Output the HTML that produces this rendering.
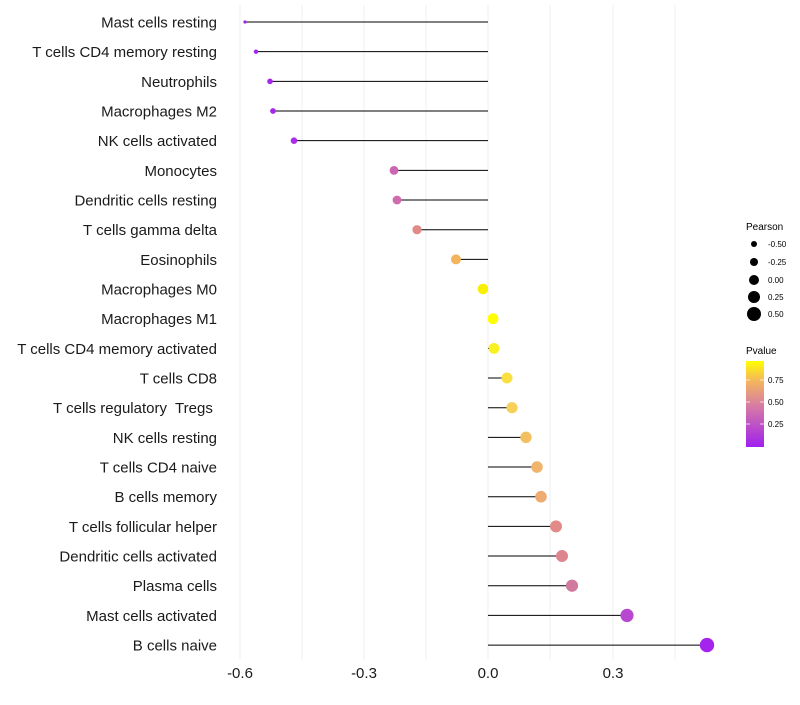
<!DOCTYPE html><html><head><style>body{margin:0;background:#fff}</style></head><body>
<svg width="800" height="700" xmlns="http://www.w3.org/2000/svg" font-family="Liberation Sans, sans-serif">
<defs><linearGradient id="g" x1="0" y1="1" x2="0" y2="0"><stop offset="0" stop-color="#a020f0"/><stop offset="0.5" stop-color="#d9809f"/><stop offset="0.78" stop-color="#f5b85a"/><stop offset="1" stop-color="#ffff00"/></linearGradient></defs>
<g stroke="#efefef" stroke-width="1">
<line x1="240" y1="5" x2="240" y2="660"/><line x1="302" y1="5" x2="302" y2="660"/><line x1="364" y1="5" x2="364" y2="660"/><line x1="426" y1="5" x2="426" y2="660"/><line x1="488" y1="5" x2="488" y2="660"/><line x1="550" y1="5" x2="550" y2="660"/><line x1="613" y1="5" x2="613" y2="660"/><line x1="675" y1="5" x2="675" y2="660"/>
</g>
<g font-size="15" fill="#1a1a1a" text-anchor="end">
<text x="217" y="27.5">Mast cells resting</text>
<text x="217" y="57.2">T cells CD4 memory resting</text>
<text x="217" y="86.8">Neutrophils</text>
<text x="217" y="116.5">Macrophages M2</text>
<text x="217" y="146.2">NK cells activated</text>
<text x="217" y="175.9">Monocytes</text>
<text x="217" y="205.5">Dendritic cells resting</text>
<text x="217" y="235.2">T cells gamma delta</text>
<text x="217" y="264.9">Eosinophils</text>
<text x="217" y="294.5">Macrophages M0</text>
<text x="217" y="324.2">Macrophages M1</text>
<text x="217" y="353.9">T cells CD4 memory activated</text>
<text x="217" y="383.5">T cells CD8</text>
<text x="217" y="413.2" xml:space="preserve">T cells regulatory  Tregs </text>
<text x="217" y="442.9">NK cells resting</text>
<text x="217" y="472.5">T cells CD4 naive</text>
<text x="217" y="502.2">B cells memory</text>
<text x="217" y="531.9">T cells follicular helper</text>
<text x="217" y="561.5">Dendritic cells activated</text>
<text x="217" y="591.2">Plasma cells</text>
<text x="217" y="620.9">Mast cells activated</text>
<text x="217" y="650.5">B cells naive</text>
</g>
<g stroke="#000" stroke-width="1">
<line x1="488" y1="22" x2="245" y2="22"/>
<line x1="488" y1="51.67" x2="256" y2="51.67"/>
<line x1="488" y1="81.34" x2="270" y2="81.34"/>
<line x1="488" y1="111.01" x2="273" y2="111.01"/>
<line x1="488" y1="140.68" x2="294" y2="140.68"/>
<line x1="488" y1="170.35" x2="394" y2="170.35"/>
<line x1="488" y1="200.02" x2="397" y2="200.02"/>
<line x1="488" y1="229.69" x2="417" y2="229.69"/>
<line x1="488" y1="259.36" x2="456" y2="259.36"/>
<line x1="488" y1="289.03" x2="483" y2="289.03"/>
<line x1="488" y1="318.7" x2="493" y2="318.7"/>
<line x1="488" y1="348.37" x2="494" y2="348.37"/>
<line x1="488" y1="378.04" x2="507" y2="378.04"/>
<line x1="488" y1="407.71" x2="512" y2="407.71"/>
<line x1="488" y1="437.38" x2="526" y2="437.38"/>
<line x1="488" y1="467.05" x2="537" y2="467.05"/>
<line x1="488" y1="496.72" x2="541" y2="496.72"/>
<line x1="488" y1="526.39" x2="556" y2="526.39"/>
<line x1="488" y1="556.06" x2="562" y2="556.06"/>
<line x1="488" y1="585.73" x2="572" y2="585.73"/>
<line x1="488" y1="615.4" x2="627" y2="615.4"/>
<line x1="488" y1="645.07" x2="707" y2="645.07"/>
</g>
<g>
<circle cx="245" cy="22" r="1.6" fill="#a020f0"/>
<circle cx="256" cy="51.67" r="2.2" fill="#a224ee"/>
<circle cx="270" cy="81.34" r="2.8" fill="#a428ec"/>
<circle cx="273" cy="111.01" r="2.9" fill="#a428ec"/>
<circle cx="294" cy="140.68" r="3.3" fill="#a82ee8"/>
<circle cx="394" cy="170.35" r="4.4" fill="#cc66b3"/>
<circle cx="397" cy="200.02" r="4.4" fill="#cf6bae"/>
<circle cx="417" cy="229.69" r="4.6" fill="#e08a8a"/>
<circle cx="456" cy="259.36" r="5" fill="#f2b45c"/>
<circle cx="483" cy="289.03" r="5.3" fill="#f8f000"/>
<circle cx="493" cy="318.7" r="5.4" fill="#ffff00"/>
<circle cx="494" cy="348.37" r="5.4" fill="#f9f020"/>
<circle cx="507" cy="378.04" r="5.5" fill="#f9e040"/>
<circle cx="512" cy="407.71" r="5.6" fill="#f6d058"/>
<circle cx="526" cy="437.38" r="5.7" fill="#f2c060"/>
<circle cx="537" cy="467.05" r="5.8" fill="#f0b46c"/>
<circle cx="541" cy="496.72" r="5.8" fill="#eeac72"/>
<circle cx="556" cy="526.39" r="6" fill="#e28a88"/>
<circle cx="562" cy="556.06" r="6" fill="#de8690"/>
<circle cx="572" cy="585.73" r="6.1" fill="#d07aa0"/>
<circle cx="627" cy="615.4" r="6.6" fill="#b848d0"/>
<circle cx="707" cy="645.07" r="7.2" fill="#a424ee"/>
</g>
<g font-size="15" fill="#1a1a1a" text-anchor="middle"><text x="240" y="678">-0.6</text><text x="364" y="678">-0.3</text><text x="488" y="678">0.0</text><text x="613" y="678">0.3</text></g>
<g font-size="10" fill="#000"><text x="746" y="230">Pearson</text>
<circle cx="754" cy="244" r="3"/><circle cx="754" cy="262" r="4"/><circle cx="754" cy="280" r="5"/><circle cx="754" cy="297" r="6"/><circle cx="754" cy="314" r="7"/>
<g font-size="8"><text x="768" y="247">-0.50</text><text x="768" y="265">-0.25</text><text x="768" y="283">0.00</text><text x="768" y="300">0.25</text><text x="768" y="317">0.50</text></g>
<text x="746" y="354">Pvalue</text>
<rect x="746" y="361" width="18" height="86" fill="url(#g)"/>
<g stroke="#fff" stroke-width="1" opacity="0.7"><line x1="746" y1="380" x2="750" y2="380"/><line x1="760" y1="380" x2="764" y2="380"/><line x1="746" y1="402" x2="750" y2="402"/><line x1="760" y1="402" x2="764" y2="402"/><line x1="746" y1="424" x2="750" y2="424"/><line x1="760" y1="424" x2="764" y2="424"/></g>
<g font-size="8"><text x="768" y="383">0.75</text><text x="768" y="405">0.50</text><text x="768" y="427">0.25</text></g>
</g>
</svg></body></html>
